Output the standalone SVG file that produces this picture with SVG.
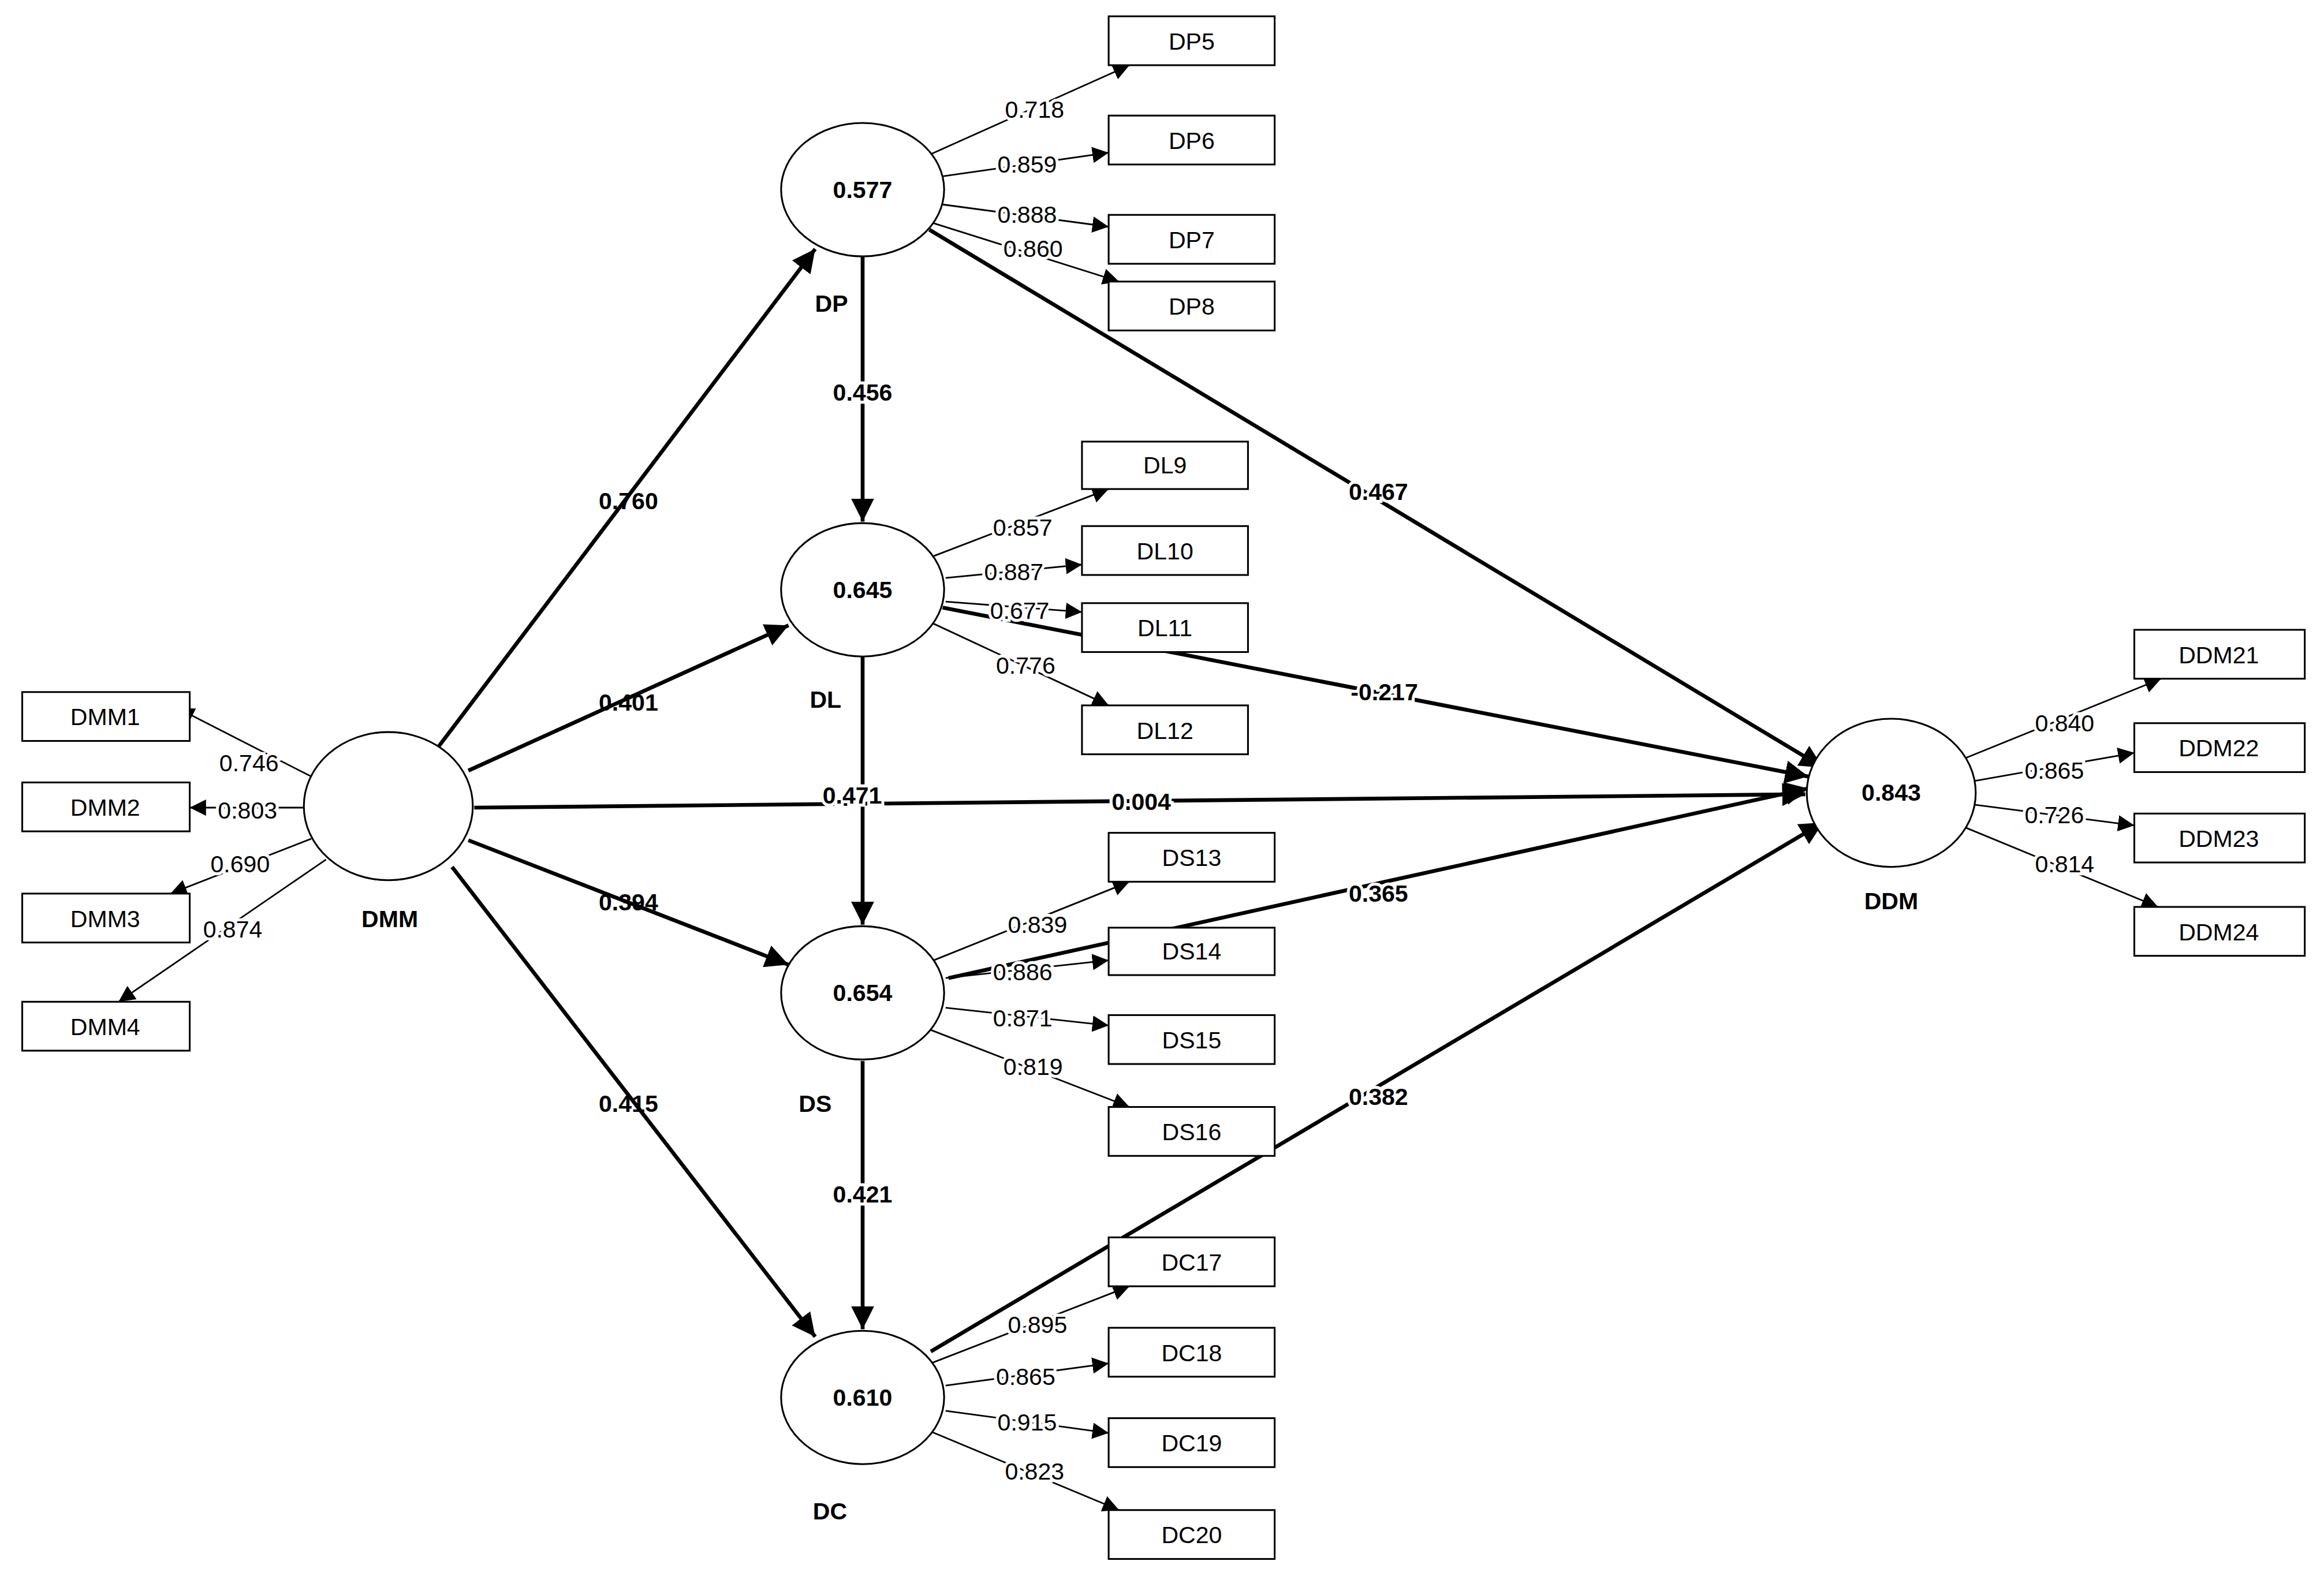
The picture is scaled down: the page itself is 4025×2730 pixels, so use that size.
<svg xmlns="http://www.w3.org/2000/svg" width="4025" height="2730" viewBox="0 0 4025 2730">
<defs>
<marker id="a" viewBox="0 0 10 10" refX="10" refY="5" markerWidth="6" markerHeight="6" markerUnits="strokeWidth" orient="auto"><path d="M0,0L10,5L0,10z" fill="#000"/></marker>
<marker id="b" viewBox="0 0 10 10" refX="10" refY="5" markerWidth="10" markerHeight="10" markerUnits="strokeWidth" orient="auto"><path d="M0,0L10,5L0,10z" fill="#000"/></marker>
<style>
text{font-family:"Liberation Sans",Arial,sans-serif;font-size:16px;text-anchor:middle;dominant-baseline:central}
.b{font-weight:bold}
.h{paint-order:stroke;stroke:#fff;stroke-width:4px}
.s{stroke:#000;stroke-width:2.6;fill:none;marker-end:url(#a)}
.t{stroke:#000;stroke-width:1.1;fill:none;marker-end:url(#b)}
rect,ellipse{fill:#fff;stroke:#000;stroke-width:1.2}
</style>
</defs>
<rect x="0" y="0" width="4025" height="2730" style="stroke:none"/>
<g transform="scale(2.567)">
<g id="connectors">
<line class="s" x1="295" y1="505" x2="550" y2="168"/>
<line class="s" x1="316" y1="520" x2="532" y2="422"/>
<line class="s" x1="320" y1="545" x2="1218" y2="536"/>
<line class="s" x1="316" y1="567" x2="532" y2="651"/>
<line class="s" x1="305" y1="585" x2="550" y2="902"/>
<line class="s" x1="582" y1="173" x2="582" y2="352"/>
<line class="s" x1="582" y1="443" x2="582" y2="624"/>
<line class="s" x1="582" y1="716" x2="582" y2="897"/>
<line class="s" x1="627" y1="155" x2="1230" y2="518"/>
<line class="s" x1="636" y1="410" x2="1220" y2="524"/>
<line class="s" x1="640" y1="660" x2="1220" y2="532"/>
<line class="s" x1="628" y1="912" x2="1230" y2="555"/>
<line class="t" x1="628" y1="104" x2="762" y2="44"/>
<line class="t" x1="636" y1="119" x2="748" y2="103"/>
<line class="t" x1="636" y1="138" x2="748" y2="153"/>
<line class="t" x1="628" y1="150" x2="755" y2="190"/>
<line class="t" x1="628" y1="376" x2="748" y2="330"/>
<line class="t" x1="638" y1="390" x2="730" y2="381"/>
<line class="t" x1="638" y1="406" x2="730" y2="413"/>
<line class="t" x1="628" y1="420" x2="748" y2="476"/>
<line class="t" x1="630" y1="648" x2="762" y2="595"/>
<line class="t" x1="638" y1="660" x2="748" y2="648"/>
<line class="t" x1="638" y1="680" x2="748" y2="692"/>
<line class="t" x1="628" y1="695" x2="762" y2="747"/>
<line class="t" x1="628" y1="920" x2="762" y2="868"/>
<line class="t" x1="638" y1="935" x2="748" y2="920"/>
<line class="t" x1="638" y1="952" x2="748" y2="967"/>
<line class="t" x1="628" y1="966" x2="755" y2="1019"/>
<line class="t" x1="210" y1="524" x2="120" y2="478"/>
<line class="t" x1="205" y1="545" x2="128" y2="545"/>
<line class="t" x1="210" y1="566" x2="115" y2="603"/>
<line class="t" x1="220" y1="580" x2="80" y2="676"/>
<line class="t" x1="1325" y1="512" x2="1458" y2="458"/>
<line class="t" x1="1332" y1="527" x2="1440" y2="508"/>
<line class="t" x1="1332" y1="543" x2="1440" y2="557"/>
<line class="t" x1="1325" y1="558" x2="1456" y2="612"/>
</g>
<g id="path-labels" class="b">
<text x="424" y="338">0.760</text><text x="424" y="474">0.401</text><text class="h" x="575" y="537">0.471</text>
<text class="h" x="770" y="541">0.004</text><text x="424" y="609">0.394</text><text x="424" y="745">0.415</text>
<text class="h" x="582" y="265">0.456</text><text class="h" x="582" y="806">0.421</text><text class="h" x="930" y="332">0.467</text>
<text class="h" x="934" y="467">-0.217</text><text class="h" x="930" y="603">0.365</text><text class="h" x="930" y="740">0.382</text>
</g>
<g id="loading-labels">
<text class="h" x="698" y="74">0.718</text><text class="h" x="693" y="111">0.859</text><text class="h" x="693" y="145">0.888</text><text class="h" x="697" y="168">0.860</text>
<text class="h" x="690" y="356">0.857</text><text class="h" x="684" y="386">0.887</text><text class="h" x="688" y="412">0.677</text><text class="h" x="692" y="449">0.776</text>
<text class="h" x="700" y="624">0.839</text><text class="h" x="690" y="656">0.886</text><text class="h" x="690" y="687">0.871</text><text class="h" x="697" y="720">0.819</text>
<text class="h" x="700" y="894">0.895</text><text class="h" x="692" y="929">0.865</text><text class="h" x="693" y="960">0.915</text><text class="h" x="698" y="993">0.823</text>
<text class="h" x="168" y="515">0.746</text><text class="h" x="167" y="547">0.803</text><text class="h" x="162" y="583">0.690</text><text class="h" x="157" y="627">0.874</text>
<text class="h" x="1393" y="488">0.840</text><text class="h" x="1386" y="520">0.865</text><text class="h" x="1386" y="550">0.726</text><text class="h" x="1393" y="583">0.814</text>
</g>
<g id="DP"><ellipse cx="582" cy="128" rx="55" ry="45"/><text class="b" x="582" y="128">0.577</text><text class="b" x="561" y="205">DP</text></g>
<g id="DL"><ellipse cx="582" cy="398" rx="55" ry="45"/><text class="b" x="582" y="398">0.645</text><text class="b" x="557" y="472">DL</text></g>
<g id="DS"><ellipse cx="582" cy="670" rx="55" ry="45"/><text class="b" x="582" y="670">0.654</text><text class="b" x="550" y="745">DS</text></g>
<g id="DC"><ellipse cx="582" cy="943" rx="55" ry="45"/><text class="b" x="582" y="943">0.610</text><text class="b" x="560" y="1020">DC</text></g>
<g id="DMM"><ellipse cx="262" cy="544" rx="57" ry="50"/><text class="b" x="263" y="620">DMM</text></g>
<g id="DDM"><ellipse cx="1276" cy="535" rx="57" ry="50"/><text class="b" x="1276" y="535">0.843</text><text class="b" x="1276" y="608">DDM</text></g>
<g id="DP5"><rect x="748" y="11" width="112" height="33"/><text x="804" y="28">DP5</text></g>
<g id="DP6"><rect x="748" y="78" width="112" height="33"/><text x="804" y="95">DP6</text></g>
<g id="DP7"><rect x="748" y="145" width="112" height="33"/><text x="804" y="162">DP7</text></g>
<g id="DP8"><rect x="748" y="190" width="112" height="33"/><text x="804" y="207">DP8</text></g>
<g id="DL9"><rect x="730" y="298" width="112" height="32"/><text x="786" y="314">DL9</text></g>
<g id="DL10"><rect x="730" y="355" width="112" height="33"/><text x="786" y="372">DL10</text></g>
<g id="DL11"><rect x="730" y="407" width="112" height="33"/><text x="786" y="424">DL11</text></g>
<g id="DL12"><rect x="730" y="476" width="112" height="33"/><text x="786" y="493">DL12</text></g>
<g id="DS13"><rect x="748" y="562" width="112" height="33"/><text x="804" y="579">DS13</text></g>
<g id="DS14"><rect x="748" y="626" width="112" height="32"/><text x="804" y="642">DS14</text></g>
<g id="DS15"><rect x="748" y="685" width="112" height="33"/><text x="804" y="702">DS15</text></g>
<g id="DS16"><rect x="748" y="747" width="112" height="33"/><text x="804" y="764">DS16</text></g>
<g id="DC17"><rect x="748" y="835" width="112" height="33"/><text x="804" y="852">DC17</text></g>
<g id="DC18"><rect x="748" y="896" width="112" height="33"/><text x="804" y="913">DC18</text></g>
<g id="DC19"><rect x="748" y="957" width="112" height="33"/><text x="804" y="974">DC19</text></g>
<g id="DC20"><rect x="748" y="1019" width="112" height="33"/><text x="804" y="1036">DC20</text></g>
<g id="DMM1"><rect x="15" y="467" width="113" height="33"/><text x="71" y="484">DMM1</text></g>
<g id="DMM2"><rect x="15" y="528" width="113" height="33"/><text x="71" y="545">DMM2</text></g>
<g id="DMM3"><rect x="15" y="603" width="113" height="33"/><text x="71" y="620">DMM3</text></g>
<g id="DMM4"><rect x="15" y="676" width="113" height="33"/><text x="71" y="693">DMM4</text></g>
<g id="DDM21"><rect x="1440" y="425" width="115" height="33"/><text x="1497" y="442">DDM21</text></g>
<g id="DDM22"><rect x="1440" y="488" width="115" height="33"/><text x="1497" y="505">DDM22</text></g>
<g id="DDM23"><rect x="1440" y="549" width="115" height="33"/><text x="1497" y="566">DDM23</text></g>
<g id="DDM24"><rect x="1440" y="612" width="115" height="33"/><text x="1497" y="629">DDM24</text></g>
</g>
</svg>
